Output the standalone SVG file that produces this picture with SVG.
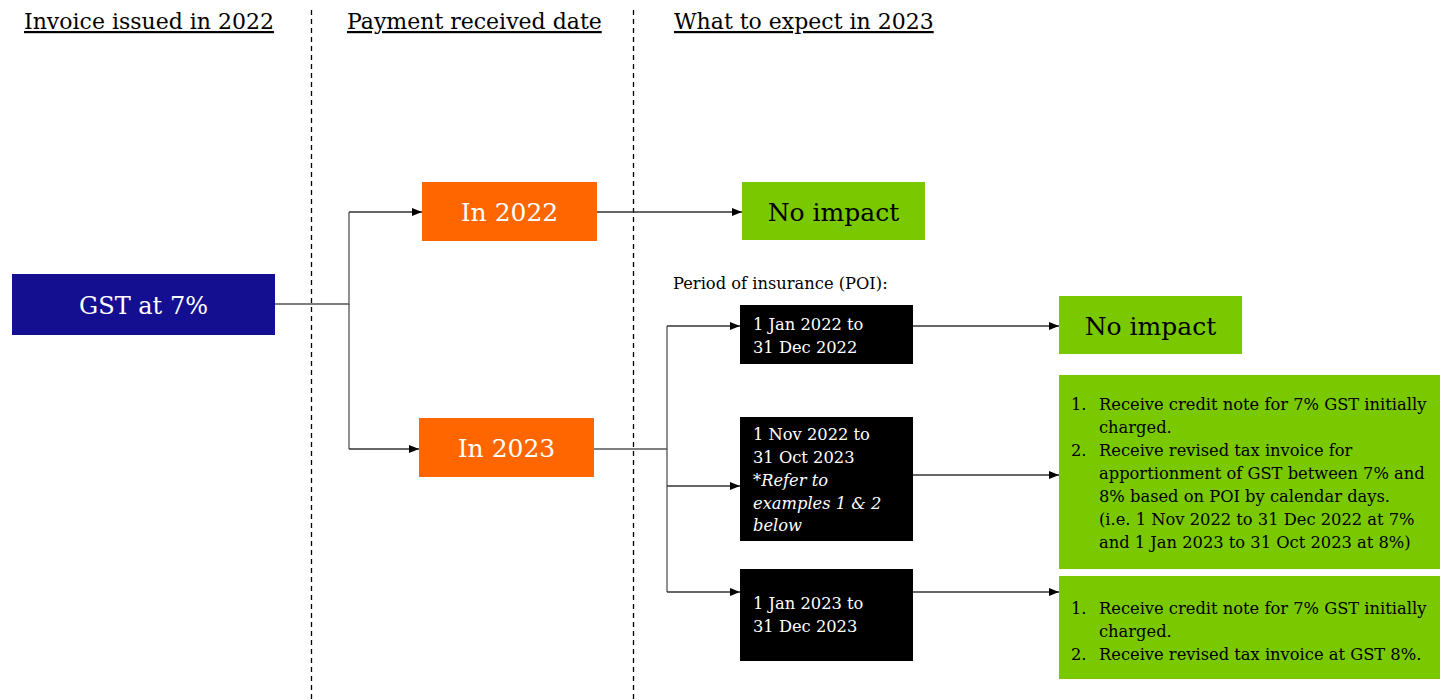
<svg xmlns="http://www.w3.org/2000/svg" width="1448" height="700" viewBox="0 0 1448 700">
<style>
text{font-family:"DejaVu Serif","Liberation Serif",serif;}
.hdr{font-size:22px;fill:#000;text-decoration:underline;}
.big{font-size:25px;text-anchor:middle;}
.w{fill:#fff;}
.k{fill:#000;}
.sm{font-size:16.3px;}
.it{font-style:italic;}
.conn{fill:none;stroke:#555;stroke-width:1.3;}
.arr{fill:none;stroke:#333;stroke-width:1.3;marker-end:url(#ah);}
.div{stroke:#000;stroke-width:1.3;stroke-dasharray:5,4;}
</style>
<defs>
<marker id="ah" markerWidth="10" markerHeight="8" refX="10" refY="4" orient="auto" markerUnits="userSpaceOnUse">
<path d="M0,0 L10,4 L0,8 Z" fill="#000"/>
</marker>
</defs>
<rect width="1448" height="700" fill="#fff"/>
<g id="headers">
<text class="hdr" x="24" y="29">Invoice issued in 2022</text>
<text class="hdr" x="347" y="29">Payment received date</text>
<text class="hdr" x="674" y="29">What to expect in 2023</text>
</g>
<g id="dividers">
<line class="div" x1="311.5" y1="10" x2="311.5" y2="700"/>
<line class="div" x1="633.5" y1="10" x2="633.5" y2="700"/>
</g>
<g id="connectors">
<path class="conn" d="M275,304 H349 V212"/>
<path class="arr" d="M349,212 H422"/>
<path class="conn" d="M349,304 V449"/>
<path class="arr" d="M349,449 H419"/>
<path class="arr" d="M597,212 H742"/>
<path class="conn" d="M594,449 H667 V326"/>
<path class="arr" d="M667,326 H740"/>
<path class="conn" d="M667,449 V592"/>
<path class="arr" d="M667,486 H740"/>
<path class="arr" d="M667,592 H740"/>
<path class="arr" d="M913,326 H1059"/>
<path class="arr" d="M913,475 H1059"/>
<path class="arr" d="M913,592 H1059"/>
</g>
<g id="gst">
<rect x="12" y="274" width="263" height="61" fill="#140f91"/>
<text class="big w" x="143.5" y="314" style="font-size:24px">GST at 7%</text>
</g>
<g id="in2022">
<rect x="422" y="182" width="175" height="59" fill="#ff6600"/>
<text class="big w" x="509.5" y="221">In 2022</text>
</g>
<g id="in2023">
<rect x="419" y="418" width="175" height="59" fill="#ff6600"/>
<text class="big w" x="506.5" y="457">In 2023</text>
</g>
<g id="noimpact1">
<rect x="742" y="182" width="183" height="58" fill="#7ac800"/>
<text class="big k" x="833.5" y="221">No impact</text>
</g>
<g id="poi-label">
<text class="sm k" x="673" y="289">Period of insurance (POI):</text>
</g>
<g id="poi1">
<rect x="740" y="305" width="173" height="59" fill="#000"/>
<text class="sm w" x="753" y="330">1 Jan 2022 to</text>
<text class="sm w" x="753" y="353">31 Dec 2022</text>
</g>
<g id="poi2">
<rect x="740" y="417" width="173" height="124" fill="#000"/>
<text class="sm w" x="753" y="440">1 Nov 2022 to</text>
<text class="sm w" x="753" y="463">31 Oct 2023</text>
<text class="sm w it" x="753" y="486">*Refer to</text>
<text class="sm w it" x="753" y="509">examples 1 &amp; 2</text>
<text class="sm w it" x="753" y="531">below</text>
</g>
<g id="poi3">
<rect x="740" y="569" width="173" height="92" fill="#000"/>
<text class="sm w" x="753" y="609">1 Jan 2023 to</text>
<text class="sm w" x="753" y="632">31 Dec 2023</text>
</g>
<g id="noimpact2">
<rect x="1059" y="296" width="183" height="58" fill="#7ac800"/>
<text class="big k" x="1150.5" y="335">No impact</text>
</g>
<g id="outcome2">
<rect x="1059" y="375" width="381" height="194" fill="#7ac800"/>
<text class="sm k" x="1071" y="410">1.</text>
<text class="sm k" x="1099" y="410">Receive credit note for 7% GST initially</text>
<text class="sm k" x="1099" y="433">charged.</text>
<text class="sm k" x="1071" y="456">2.</text>
<text class="sm k" x="1099" y="456">Receive revised tax invoice for</text>
<text class="sm k" x="1099" y="479">apportionment of GST between 7% and</text>
<text class="sm k" x="1099" y="502">8% based on POI by calendar days.</text>
<text class="sm k" x="1099" y="525">(i.e. 1 Nov 2022 to 31 Dec 2022 at 7%</text>
<text class="sm k" x="1099" y="548">and 1 Jan 2023 to 31 Oct 2023 at 8%)</text>
</g>
<g id="outcome3">
<rect x="1059" y="576" width="381" height="103" fill="#7ac800"/>
<text class="sm k" x="1071" y="614">1.</text>
<text class="sm k" x="1099" y="614">Receive credit note for 7% GST initially</text>
<text class="sm k" x="1099" y="637">charged.</text>
<text class="sm k" x="1071" y="660">2.</text>
<text class="sm k" x="1099" y="660">Receive revised tax invoice at GST 8%.</text>
</g>
</svg>
